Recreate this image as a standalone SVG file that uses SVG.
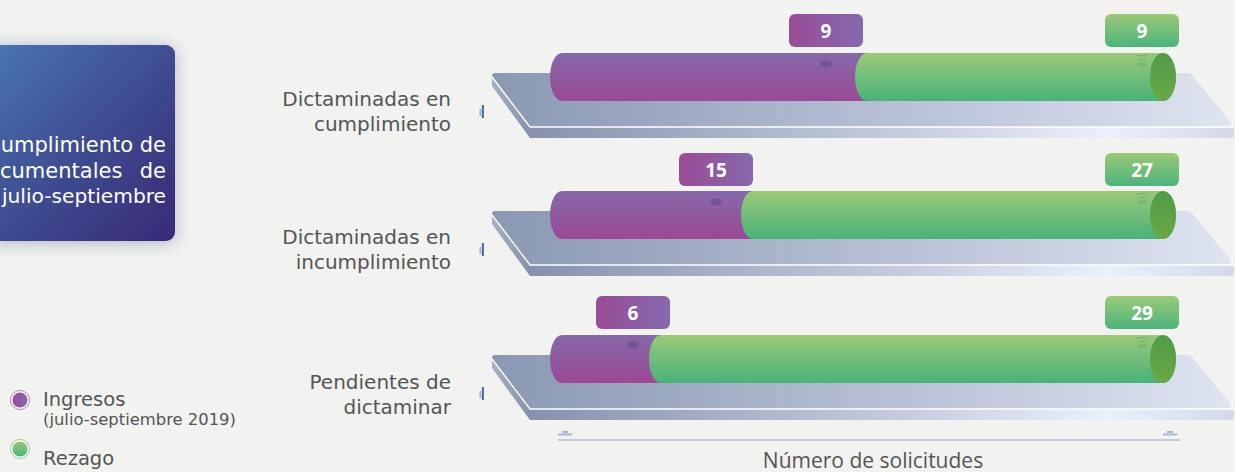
<svg xmlns="http://www.w3.org/2000/svg" width="1235" height="472" viewBox="0 0 1235 472">
<defs>
<linearGradient id="card" x1="0" y1="0" x2="1" y2="1"><stop offset="0" stop-color="#4a76b2"/><stop offset="0.55" stop-color="#3e4a8f"/><stop offset="1" stop-color="#382a78"/></linearGradient>
<linearGradient id="topFace" x1="0" y1="0" x2="1" y2="0"><stop offset="0" stop-color="#8a98b3"/><stop offset="0.6" stop-color="#bcc4d8"/><stop offset="1" stop-color="#dfe4f0"/></linearGradient>
<linearGradient id="frontFace" x1="0" y1="0" x2="1" y2="0"><stop offset="0" stop-color="#8892ad"/><stop offset="0.55" stop-color="#c7cee0"/><stop offset="0.82" stop-color="#eaf0fa"/><stop offset="1" stop-color="#d3d9e8"/></linearGradient>
<linearGradient id="sideFace" x1="0" y1="0" x2="1" y2="1"><stop offset="0" stop-color="#a6b1c8"/><stop offset="1" stop-color="#8591ab"/></linearGradient>
<linearGradient id="purp" x1="0" y1="0" x2="0" y2="1"><stop offset="0" stop-color="#8569aa"/><stop offset="1" stop-color="#9c4995"/></linearGradient>
<linearGradient id="grn" x1="0" y1="0" x2="0" y2="1"><stop offset="0" stop-color="#9bc977"/><stop offset="1" stop-color="#48b27b"/></linearGradient>
<linearGradient id="grnEnd" x1="0" y1="0" x2="0" y2="1"><stop offset="0" stop-color="#4e9b4b"/><stop offset="1" stop-color="#6ca844"/></linearGradient>
<linearGradient id="purpLbl" x1="0" y1="0" x2="1" y2="0"><stop offset="0" stop-color="#9a4c97"/><stop offset="1" stop-color="#8569ad"/></linearGradient>
<linearGradient id="grnLbl" x1="0" y1="0" x2="0" y2="1"><stop offset="0" stop-color="#9bc978"/><stop offset="1" stop-color="#4cb47c"/></linearGradient>
<linearGradient id="legP" x1="0" y1="0" x2="1" y2="0"><stop offset="0" stop-color="#9a4a96"/><stop offset="1" stop-color="#7e6cb0"/></linearGradient>
<linearGradient id="legG" x1="0" y1="0" x2="0" y2="1"><stop offset="0" stop-color="#9bc978"/><stop offset="1" stop-color="#4ab47b"/></linearGradient>
<filter id="shadow" x="-30%" y="-30%" width="160%" height="160%"><feDropShadow dx="0" dy="2" stdDeviation="8" flood-color="#2a3a70" flood-opacity="0.35"/></filter>
<g id="platform">
<path d="M492,76 Q492,73 495,73 L1190,73 L1231,122 Q1234,127 1228,127 L530,127 Z" fill="url(#topFace)"/>
<path d="M492,76 L492,86 L530,138 L530,127 Z" fill="url(#sideFace)"/>
<path d="M530,127 L1229,127 Q1234,127 1234,131 L1234,135 Q1234,138 1230,138 L530,138 Z" fill="url(#frontFace)"/>
<path d="M492,77 L530,127 L1229,127 Q1233,127 1232,123" fill="none" stroke="#ffffff" stroke-width="1.4"/>
</g>
<g id="greenEnd">
<ellipse cx="1163" cy="77" rx="13" ry="24" fill="url(#grnEnd)"/>
</g>
<g id="tick">
<rect x="479.5" y="109" width="1.6" height="7" fill="#95b4d4"/>
<rect x="481.8" y="105" width="2.2" height="13" fill="#4a73a6"/>
</g>
<g id="gpin">
<rect x="1136" y="55" width="12" height="1.2" fill="#5aa874" opacity="0.5"/>
<rect x="1139" y="59" width="6" height="1.2" fill="#5aa874" opacity="0.45"/>
<ellipse cx="1142" cy="64" rx="5" ry="2" fill="#57a774" opacity="0.4"/>
</g>
</defs>
<style>
.lbl{font-family:"DejaVu Sans","Liberation Sans",sans-serif;font-size:20px;fill:#555555;text-anchor:end}
.val{font-family:"Open Sans","Liberation Sans",sans-serif;font-size:19px;font-weight:bold;fill:#ffffff;text-anchor:middle}
.card{font-family:"DejaVu Sans","Liberation Sans",sans-serif;font-size:21px;fill:#ffffff}
.card-s{font-family:"DejaVu Sans","Liberation Sans",sans-serif;font-size:20.2px;fill:#ffffff}
.leg{font-family:"DejaVu Sans","Liberation Sans",sans-serif;fill:#555555}
</style>
<rect width="1235" height="472" fill="#f2f2f0"/>

<g id="title-card">
<rect x="-12" y="45" width="187" height="196" rx="9" fill="url(#card)" filter="url(#shadow)"/>
<text class="card" x="166" y="152" text-anchor="end">umplimiento de</text>
<text class="card" x="0" y="178">cumentales</text>
<text class="card" x="166" y="178" text-anchor="end">de</text>
<text class="card-s" x="166" y="203" text-anchor="end">julio-septiembre</text>
</g>

<g id="row-cumplimiento">
<use href="#platform"/>
<path d="M562,53 L875,53 L875,101 L562,101 A12,24 0 0 1 562,53 Z" fill="url(#purp)"/>
<path d="M867,53 L1163,53 A13,24 0 0 1 1163,101 L867,101 A12,24 0 0 1 867,53 Z" fill="url(#grn)"/>
<use href="#greenEnd"/>
<rect x="822" y="55" width="8" height="1.5" fill="#b0479a" opacity="0.5"/>
<ellipse cx="826" cy="64" rx="6" ry="3.5" fill="#6a4a8c" opacity="0.6"/>
<use href="#gpin"/>
<rect x="789" y="14" width="74" height="33" rx="6" fill="url(#purpLbl)"/>
<text class="val" x="826" y="37.5">9</text>
<rect x="1105" y="14" width="74" height="33" rx="6" fill="url(#grnLbl)"/>
<text class="val" x="1142" y="37.5">9</text>
<use href="#tick"/>
<text class="lbl" x="451" y="106">Dictaminadas en</text>
<text class="lbl" x="451" y="131">cumplimiento</text>
</g>

<g id="row-incumplimiento" transform="translate(0,138)">
<use href="#platform"/>
<path d="M562,53 L761,53 L761,101 L562,101 A12,24 0 0 1 562,53 Z" fill="url(#purp)"/>
<path d="M753,53 L1163,53 A13,24 0 0 1 1163,101 L753,101 A12,24 0 0 1 753,53 Z" fill="url(#grn)"/>
<use href="#greenEnd"/>
<rect x="712" y="55" width="8" height="1.5" fill="#b0479a" opacity="0.5"/>
<ellipse cx="716" cy="64" rx="6" ry="3.5" fill="#6a4a8c" opacity="0.6"/>
<use href="#gpin"/>
<rect x="679" y="15" width="74" height="33" rx="6" fill="url(#purpLbl)"/>
<text class="val" x="716" y="38.5">15</text>
<rect x="1105" y="15" width="74" height="33" rx="6" fill="url(#grnLbl)"/>
<text class="val" x="1142" y="38.5">27</text>
<use href="#tick"/>
<text class="lbl" x="451" y="106">Dictaminadas en</text>
<text class="lbl" x="451" y="131">incumplimiento</text>
</g>

<g id="row-pendientes" transform="translate(0,282)">
<use href="#platform"/>
<path d="M562,53 L669,53 L669,101 L562,101 A12,24 0 0 1 562,53 Z" fill="url(#purp)"/>
<path d="M661,53 L1163,53 A13,24 0 0 1 1163,101 L661,101 A12,24 0 0 1 661,53 Z" fill="url(#grn)"/>
<use href="#greenEnd"/>
<rect x="629" y="55" width="8" height="1.5" fill="#b0479a" opacity="0.5"/>
<ellipse cx="633" cy="63" rx="6" ry="3.5" fill="#6a4a8c" opacity="0.6"/>
<use href="#gpin"/>
<rect x="596" y="14" width="74" height="33" rx="6" fill="url(#purpLbl)"/>
<text class="val" x="633" y="37.5">6</text>
<rect x="1105" y="14" width="74" height="33" rx="6" fill="url(#grnLbl)"/>
<text class="val" x="1142" y="37.5">29</text>
<use href="#tick"/>
<text class="lbl" x="451" y="107">Pendientes de</text>
<text class="lbl" x="451" y="132">dictaminar</text>
</g>

<g id="axis">
<rect x="558" y="433.5" width="14" height="2" fill="#aab3cf"/>
<rect x="562" y="431" width="6" height="2" fill="#aab3cf"/>
<rect x="1163" y="433.5" width="14" height="2" fill="#aab3cf"/>
<rect x="1167" y="431" width="6" height="2" fill="#aab3cf"/>
<line x1="558" y1="440" x2="1180" y2="440" stroke="#b6bed8" stroke-width="1.5"/>
<text x="873" y="468" text-anchor="middle" font-family="'Open Sans','Liberation Sans',sans-serif" font-size="21" fill="#555555">Número de solicitudes</text>
</g>

<g id="legend">
<circle cx="20" cy="400" r="9.5" fill="#ffffff" stroke="#a77bbf" stroke-width="1"/>
<circle cx="20" cy="400" r="7.5" fill="url(#legP)"/>
<text class="leg" x="43" y="406" font-size="19.5">Ingresos</text>
<text class="leg" x="43" y="425" font-size="16.4">(julio-septiembre 2019)</text>
<circle cx="20" cy="449" r="9.5" fill="#ffffff" stroke="#93cc95" stroke-width="1"/>
<circle cx="20" cy="449" r="7.5" fill="url(#legG)"/>
<text class="leg" x="43" y="465" font-size="19.5">Rezago</text>
</g>
</svg>
